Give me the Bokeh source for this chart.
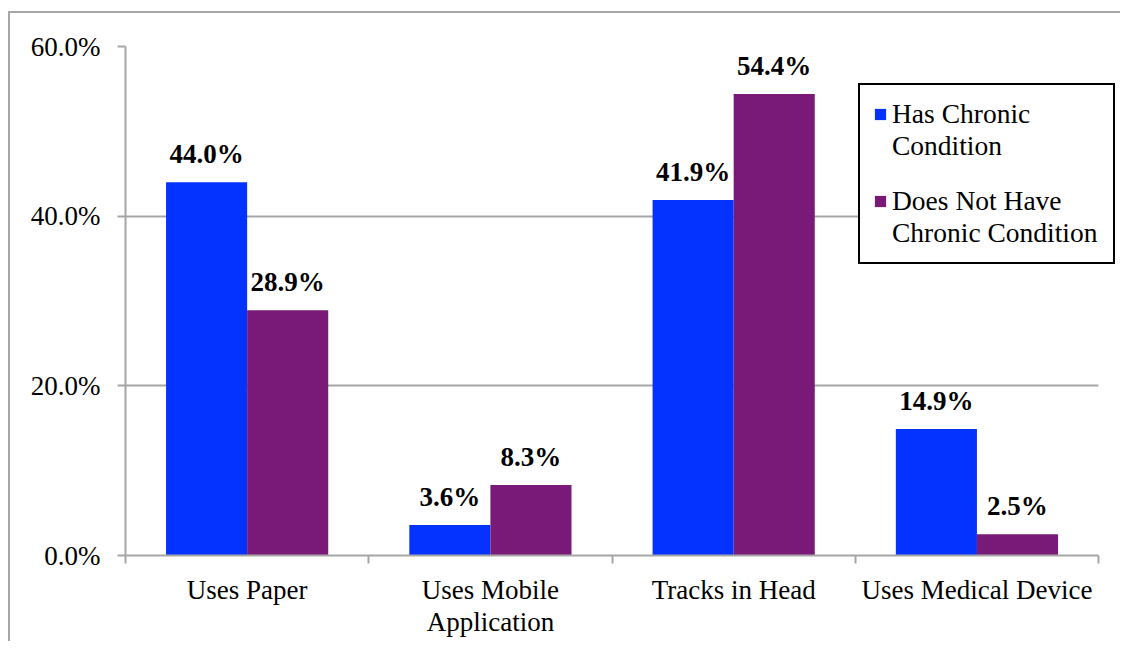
from bokeh.plotting import figure
from bokeh.models import (ColumnDataSource, FixedTicker, PrintfTickFormatter, Legend,
                          LegendItem, LabelSet, Range1d)
from bokeh.transform import dodge
from bokeh.embed import file_html
from bokeh.resources import INLINE

# Survey results: how people keep track of health information (% of respondents)
categories = ["Uses Paper", "Uses Mobile\nApplication", "Tracks in Head", "Uses Medical Device"]
has_chronic = [44.0, 3.6, 41.9, 14.9]
no_chronic = [28.9, 8.3, 54.4, 2.5]
series_names = ["Has Chronic\nCondition", "Does Not Have\nChronic Condition"]
y_ticks = [0, 20, 40, 60]

BLUE = "#0433ff"
PURPLE = "#7a1a78"
GRAY = "#a6a6a6"
FONT = "Liberation Serif"

n = len(categories)
pos = [i + 0.5 for i in range(n)]
src = ColumnDataSource(dict(
    pos=pos,
    has=has_chronic,
    no=no_chronic,
    has_lbl=[f"{v:.1f}%" for v in has_chronic],
    no_lbl=[f"{v:.1f}%" for v in no_chronic],
))

# a little room right of the last category so the legend box can overhang the axis end
x_pad = 0.086

p = figure(width=1112, height=630, output_backend="svg", toolbar_location=None,
           x_range=Range1d(0, n + x_pad), y_range=Range1d(0, 60),
           min_border_left=115, min_border_right=3, min_border_top=33, min_border_bottom=88)
# shift the chart a little and give it a thin grey edge on the top and left
p.styles = {"position": "relative", "left": "10px", "top": "13px",
            "box-shadow": f"-2px -2px 0 0 {GRAY}"}
p.outline_line_color = None
p.background_fill_color = "white"
p.border_fill_color = "white"

r1 = p.vbar(x=dodge("pos", -1/6, range=p.x_range), top="has", width=1/3, bottom=0,
            source=src, fill_color=BLUE, line_color=None)
r2 = p.vbar(x=dodge("pos", 1/6, range=p.x_range), top="no", width=1/3, bottom=0,
            source=src, fill_color=PURPLE, line_color=None)

label_kw = dict(text_font=FONT, text_font_size="27px", text_font_style="bold",
                text_color="black", text_align="center", text_baseline="alphabetic",
                y_offset=19)
p.add_layout(LabelSet(x=dodge("pos", -1/6, range=p.x_range), y="has", text="has_lbl",
                      source=src, **label_kw))
p.add_layout(LabelSet(x=dodge("pos", 1/6, range=p.x_range), y="no", text="no_lbl",
                      source=src, **label_kw))

# x axis: labels at category centres, ticks at category boundaries
xa = p.xaxis[0]
xa.bounds = (0, n)
xa.ticker = FixedTicker(ticks=pos, minor_ticks=list(range(n + 1)))
xa.major_label_overrides = {x: c for x, c in zip(pos, categories)}
xa.major_tick_out = 0
xa.major_tick_in = 0
xa.minor_tick_out = 8
xa.minor_tick_in = 0
xa.minor_tick_line_color = GRAY
xa.minor_tick_line_width = 2
xa.axis_line_color = GRAY
xa.axis_line_width = 2
xa.major_label_text_font = FONT
xa.major_label_text_font_size = "27px"
xa.major_label_text_line_height = 1.07
xa.major_label_text_color = "black"
xa.major_label_standoff = 11

ya = p.yaxis[0]
ya.ticker = FixedTicker(ticks=y_ticks, minor_ticks=[])
ya.formatter = PrintfTickFormatter(format="%.1f%%")
ya.major_tick_out = 8
ya.major_tick_in = 0
ya.major_tick_line_color = GRAY
ya.major_tick_line_width = 2
ya.axis_line_color = GRAY
ya.axis_line_width = 2
ya.major_label_text_font = FONT
ya.major_label_text_font_size = "27px"
ya.major_label_text_color = "black"
ya.major_label_standoff = 17

p.xgrid.visible = False
p.ygrid.ticker = FixedTicker(ticks=y_ticks)
p.ygrid.cross_bounds = (0, n)
p.ygrid.grid_line_color = GRAY
p.ygrid.grid_line_width = 2

# legend box with the two-line labels (its own swatches are collapsed to zero height)
legend = Legend(items=[LegendItem(label=series_names[0], renderers=[r1]),
                       LegendItem(label=series_names[1], renderers=[r2])],
                location=(733, 291))
legend.border_line_color = "black"
legend.border_line_width = 2
legend.border_line_alpha = 1
legend.background_fill_color = "white"
legend.background_fill_alpha = 1
legend.label_text_font = FONT
legend.label_text_font_size = "27.5px"
legend.label_text_line_height = 1.16
legend.label_text_color = "black"
legend.label_width = 208
legend.glyph_width = 14
legend.glyph_height = 0
legend.label_standoff = 5
legend.spacing = 23
legend.padding = 13
legend.margin = 0
p.add_layout(legend)

# swatches aligned with the first line of each legend entry
swatches = Legend(items=[LegendItem(label="", renderers=[r1]),
                         LegendItem(label="", renderers=[r2])],
                  location=(748, 347))
swatches.border_line_color = None
swatches.background_fill_alpha = 0
swatches.label_text_font_size = "1px"
swatches.label_height = 14
swatches.label_width = 0
swatches.label_standoff = 0
swatches.glyph_width = 14
swatches.glyph_height = 14
swatches.spacing = 73
swatches.padding = 0
swatches.margin = 0
p.add_layout(swatches)

open("out.html", "w").write(file_html(p, INLINE))
